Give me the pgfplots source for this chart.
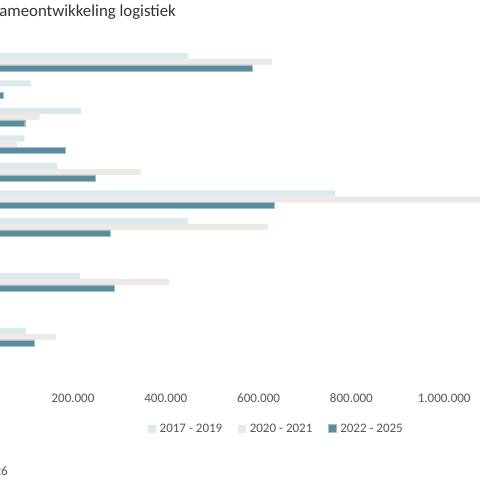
\documentclass[border=0pt]{standalone}
\usepackage{pgfplots}
\pgfplotsset{compat=1.18}
\usepackage{fontspec}
\setmainfont{Carlito}
\definecolor{cLight}{RGB}{220,234,237}
\definecolor{cPink}{RGB}{238,233,230}
\definecolor{cDark}{RGB}{90,140,158}
\definecolor{cDarkB}{RGB}{160,192,204}
\definecolor{cTick}{RGB}{85,85,85}
\definecolor{cTitle}{RGB}{51,51,51}
\pgfplotsset{sqlegend/.style={legend image code/.code={\path[##1] (0pt,-3.5pt) rectangle (8pt,4.5pt);}}}
\begin{document}
\begin{tikzpicture}
\path[use as bounding box, clip] (0pt,0pt) rectangle (480pt,480pt);
\begin{axis}[
  at={(-19.8pt,90.75pt)}, anchor=south west,
  scale only axis, width=510.4pt, height=341pt,
  xmin=0, xmax=1100000, ymin=-0.9, ymax=11.5,
  xbar, bar width=6pt,
  axis line style={draw=none}, major tick length=0pt,
  ytick=\empty,
  xtick={200000,400000,600000,800000,1000000},
  scaled x ticks=false,
  xticklabel style={anchor=base, yshift=-12.8pt, font=\fontsize{13}{15}\selectfont, text=cTick},
  /pgf/number format/fixed,
  /pgf/number format/1000 sep={.},
  /pgf/number format/assume math mode=true,
  legend columns=3,
  legend style={at={(0.3288,-0.1166)}, anchor=west, draw=none, fill=none, inner sep=0pt,
    nodes={inner sep=0pt},
    font=\fontsize{13}{15}\selectfont, text=cTick,
    /tikz/every odd column/.append style={column sep=3.5pt},
    /tikz/every even column/.append style={column sep=16pt}},
]
\addplot[fill=cLight, draw=none, bar shift=6pt, sqlegend]
  coordinates {(448000,11) (110000,10) (217000,9) (96000,8) (166000,7) (765000,6) (448000,5) (215000,3) (99000,1)};
\addplot[fill=cPink, draw=none, bar shift=0pt, sqlegend]
  coordinates {(629000,11) (20000,10) (128000,9) (79000,8) (346000,7) (1120000,6) (620000,5) (407000,3) (163000,1)};
\addplot[fill=cDark, draw=cDarkB, line width=0.4pt, bar shift=-6pt, sqlegend]
  coordinates {(586000,11) (49000,10) (96000,9) (184000,8) (247000,7) (633000,6) (280000,5) (288000,3) (116000,1)};
\legend{2017 - 2019, 2020 - 2021, 2022 - 2025}
\end{axis}
\node[anchor=base east, inner sep=0pt, font=\fontsize{16.8}{20}\selectfont, text=cTitle] at (176pt,463pt) {Opnameontwikkeling logistiek};
\node[anchor=base east, inner sep=0pt, font=\fontsize{13}{15}\selectfont, text=cTick] at (8pt,5pt) {2026};
\end{tikzpicture}
\end{document}
